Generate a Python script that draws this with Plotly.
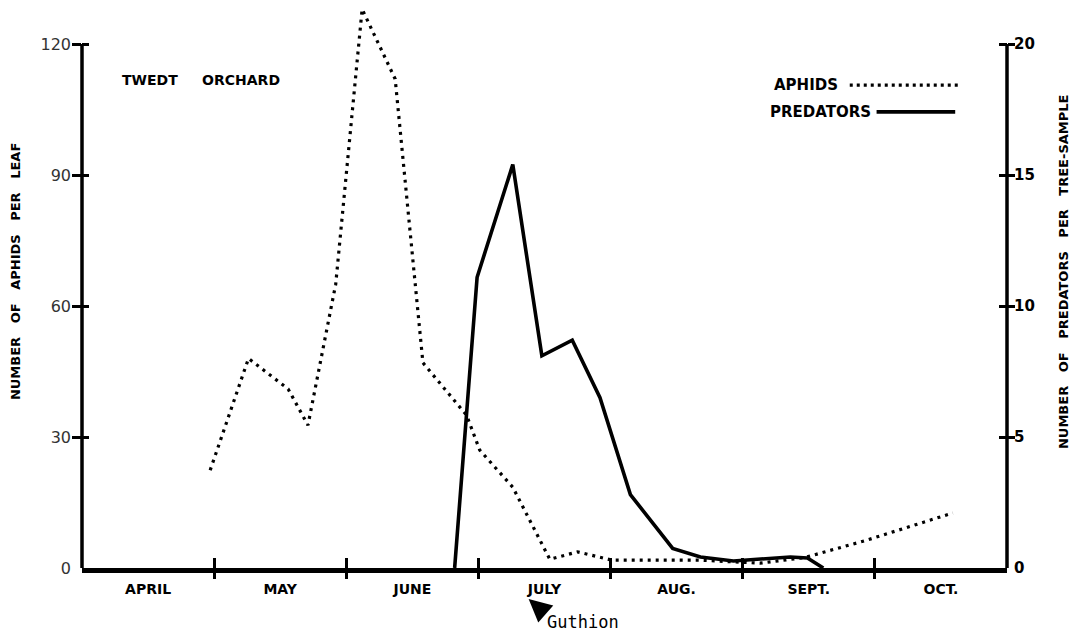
import plotly.graph_objects as go

# ---------------- data ----------------
MONTHS = ["APRIL", "MAY", "JUNE", "JULY", "AUG.", "SEPT.", "OCT."]
MONTH_MID = [0.5, 1.5, 2.5, 3.5, 4.5, 5.5, 6.5]
MONTH_BOUNDS = [1, 2, 3, 4, 5, 6]

# x = months since 1 April
APHID_X = [0.97, 1.26, 1.56, 1.71, 1.92, 2.12, 2.37, 2.58, 2.91, 3.01, 3.26,
           3.54, 3.75, 4.01, 4.68, 5.13, 5.47, 5.93, 6.59]
APHID_Y = [22.4, 48, 41, 32.7, 65, 128, 112, 47, 35, 27, 18.5,
           2, 3.7, 1.8, 1.8, 1.1, 2.4, 6.3, 12.6]

PRED_X = [2.82, 2.99, 3.26, 3.48, 3.71, 3.92, 4.15, 4.47, 4.68, 4.93, 5.36, 5.49, 5.61]
PRED_Y = [0, 11.1, 15.4, 8.1, 8.7, 6.5, 2.8, 0.75, 0.42, 0.27, 0.42, 0.38, 0]

LEFT_TICKS = [0, 30, 60, 90, 120]
RIGHT_TICKS = [0, 5, 10, 15, 20]
GUTHION_X = 3.38

# ---------------- figure ----------------
X_MAX = 7
Y_MAX = 130.1
Y2_MAX = Y_MAX * RIGHT_TICKS[-1] / LEFT_TICKS[-1]
FONT = "DejaVu Sans"

fig = go.Figure()

fig.add_trace(go.Scatter(
    x=APHID_X, y=APHID_Y, mode="lines", name="APHIDS",
    line=dict(color="black", width=3.2, dash="3px,5px"),
    xaxis="x", yaxis="y", showlegend=False))
fig.add_trace(go.Scatter(
    x=PRED_X, y=PRED_Y, mode="lines", name="PREDATORS",
    line=dict(color="black", width=3.6),
    xaxis="x", yaxis="y2", showlegend=False))

# empty helper traces so overlay tick axes are drawn
for xa, ya in [("x2", "y"), ("x3", "y"), ("x", "y3"), ("x", "y4"), ("x", "y5"), ("x", "y6")]:
    fig.add_trace(go.Scatter(x=[None], y=[None], xaxis=xa, yaxis=ya,
                             showlegend=False, hoverinfo="skip"))

tick_style = dict(tickwidth=2.5, tickcolor="black", showticklabels=False,
                  showgrid=False, zeroline=False, showline=False)

fig.update_layout(
    width=1081, height=631, autosize=False,
    margin=dict(l=82, r=74, t=0, b=63),
    paper_bgcolor="white", plot_bgcolor="white",
    font=dict(family=FONT, color="black"),
    xaxis=dict(range=[0, X_MAX], tickvals=MONTH_MID, ticktext=MONTHS, ticks="",
               showgrid=False, zeroline=False, showline=True, linecolor="black",
               linewidth=5, ticklabelstandoff=4,
               tickfont=dict(family=FONT, size=14, weight="bold")),
    xaxis2=dict(range=[0, X_MAX], overlaying="x", anchor="y", tickvals=MONTH_BOUNDS,
                ticks="outside", ticklen=10, **tick_style),
    xaxis3=dict(range=[0, X_MAX], overlaying="x", anchor="y", tickvals=MONTH_BOUNDS,
                ticks="inside", ticklen=10, **tick_style),
    yaxis=dict(range=[0, Y_MAX], tickvals=LEFT_TICKS, ticks="", showgrid=False,
               zeroline=False, showline=False, ticklabelstandoff=10,
               tickfont=dict(family=FONT, size=16, color="#333")),
    yaxis2=dict(range=[0, Y2_MAX], overlaying="y", anchor="x", side="right",
                tickvals=RIGHT_TICKS, ticks="", showgrid=False, zeroline=False,
                showline=False, ticklabelstandoff=6,
                tickfont=dict(family=FONT, size=15, weight="bold")),
    yaxis3=dict(range=[0, Y_MAX], overlaying="y", anchor="x", side="left",
                tickvals=LEFT_TICKS[1:], ticks="outside", ticklen=9, **tick_style),
    yaxis4=dict(range=[0, Y_MAX], overlaying="y", anchor="x", side="left",
                tickvals=LEFT_TICKS[1:], ticks="inside", ticklen=7, **tick_style),
    yaxis5=dict(range=[0, Y2_MAX], overlaying="y", anchor="x", side="right",
                tickvals=RIGHT_TICKS[1:], ticks="outside", ticklen=7, **tick_style),
    yaxis6=dict(range=[0, Y2_MAX], overlaying="y", anchor="x", side="right",
                tickvals=RIGHT_TICKS[1:], ticks="inside", ticklen=8, **tick_style),
)

# vertical axis lines (stop at the top tick, like the original)
top_frac = LEFT_TICKS[-1] / Y_MAX
for xp in (0, 1):
    fig.add_shape(type="line", xref="paper", yref="paper", x0=xp, x1=xp,
                  y0=0, y1=top_frac, line=dict(color="black", width=3.5))

# custom legend: text on the left, line sample on the right
fig.add_annotation(text="APHIDS", xref="paper", yref="paper", x=0.8195, y=0.850,
                   xanchor="right", yanchor="middle", showarrow=False,
                   font=dict(family=FONT, size=15, weight="bold"))
fig.add_shape(type="line", xref="paper", yref="paper", x0=0.830, x1=0.947,
              y0=0.850, y1=0.850, line=dict(color="black", width=3.2, dash="3px,4px"))
fig.add_annotation(text="PREDATORS", xref="paper", yref="paper", x=0.855, y=0.803,
                   xanchor="right", yanchor="middle", showarrow=False,
                   font=dict(family=FONT, size=15, weight="bold"))
fig.add_shape(type="line", xref="paper", yref="paper", x0=0.859, x1=0.944,
              y0=0.803, y1=0.803, line=dict(color="black", width=3.6))

# chart label
fig.add_annotation(text="TWEDT     ORCHARD", xref="paper", yref="paper", x=0.041, y=0.859,
                   xanchor="left", yanchor="middle", showarrow=False,
                   font=dict(family=FONT, size=14, weight="bold"))

# axis titles
fig.add_annotation(text="NUMBER   OF   APHIDS   PER   LEAF", xref="paper", yref="paper",
                   x=-0.0724, y=0.521, textangle=-90, showarrow=False,
                   xanchor="center", yanchor="middle",
                   font=dict(family=FONT, size=13, weight="bold"))
fig.add_annotation(text="NUMBER   OF   PREDATORS   PER   TREE-SAMPLE", xref="paper", yref="paper",
                   x=1.0605, y=0.521, textangle=-90, showarrow=False,
                   xanchor="center", yanchor="middle",
                   font=dict(family=FONT, size=13, weight="bold"))

# Guthion application
fig.add_annotation(text="", x=GUTHION_X, xref="x", yref="paper", y=-0.0546,
                   showarrow=True, ax=16, ay=14, arrowhead=2, arrowsize=1.3,
                   arrowwidth=3.5, arrowcolor="black", standoff=0)
fig.add_annotation(text="Guthion", x=GUTHION_X + 0.12, xref="x", yref="paper", y=-0.095,
                   xanchor="left", yanchor="middle", showarrow=False,
                   font=dict(family="DejaVu Sans Mono", size=17))

fig.write_html("out.html")
